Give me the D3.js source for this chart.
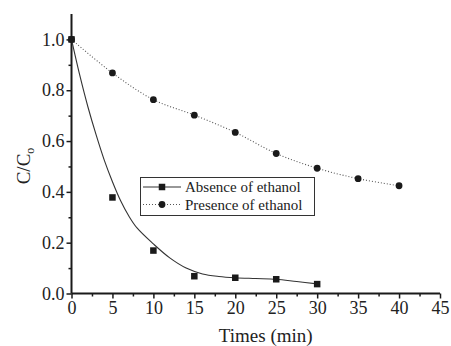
<!DOCTYPE html>
<html>
<head>
<meta charset="utf-8">
<script src="https://cdn.jsdelivr.net/npm/d3@7"></script>
</head>
<body style="margin:0;background:#fff">
<svg id="chart" width="451" height="346" style="display:block"></svg>
<script>
// ---- data ----
const absenceTime = [0, 5, 10, 15, 20, 25, 30];
const absenceValue = [1.0, 0.378, 0.169, 0.068, 0.062, 0.056, 0.037];
const absenceFitTime = [0, 1, 2, 3, 4, 5, 6, 7, 8, 10, 12, 14, 16, 18, 20, 22.5, 25, 27.5, 30];
const absenceFitValue = [1.0, 0.86, 0.735, 0.625, 0.525, 0.44, 0.365, 0.305, 0.258, 0.195, 0.14, 0.1, 0.077, 0.067, 0.062, 0.059, 0.056, 0.047, 0.038];
const presenceTime = [0, 5, 10, 15, 20, 25, 30, 35, 40];
const presenceValue = [1.0, 0.868, 0.763, 0.702, 0.634, 0.551, 0.493, 0.452, 0.424];
const xTicks = [0, 5, 10, 15, 20, 25, 30, 35, 40, 45];
const yTicks = [0.0, 0.2, 0.4, 0.6, 0.8, 1.0];
const legendLabels = ["Absence of ethanol", "Presence of ethanol"];

const FONT = '"Liberation Serif"';
const svg = d3.select("#chart");
const x = d3.scaleLinear().domain([0, 45]).range([71.5, 440]);
const y = d3.scaleLinear().domain([0, 1.1]).range([293.5, 14]);

const ink = "#1a1a1a";

// axes
const xAxis = d3.axisBottom(x).tickValues(xTicks).tickFormat(d3.format("d")).tickSize(5).tickPadding(3);
const xMinor = d3.axisBottom(x).tickValues(d3.range(2.5, 45, 5)).tickFormat("").tickSize(3);
const yAxis = d3.axisLeft(y).tickValues(yTicks).tickFormat(d3.format(".1f")).tickSize(5).tickPadding(2);
const yMinor = d3.axisLeft(y).tickValues([0.1, 0.3, 0.5, 0.7, 0.9]).tickFormat("").tickSize(3);

function styleAxis(g) {
  g.attr("font-family", null);
  g.select(".domain").attr("stroke", ink).attr("stroke-width", 2);
  g.selectAll(".tick line").attr("stroke", ink).attr("stroke-width", 1.5);
  g.selectAll(".tick text").attr("fill", "#222").attr("font-size", 18).style("font-family", FONT);
}

svg.append("g").attr("transform", `translate(0,${y(0)})`).call(xMinor).call(styleAxis).select(".domain").remove();
svg.append("g").attr("transform", `translate(${x(0)},0)`).call(yMinor).call(styleAxis).select(".domain").remove();
svg.append("g").attr("transform", `translate(0,${y(0)})`).call(xAxis).call(styleAxis)
  .select(".domain").attr("d", `M${x(0)},0H${x(45)}`);
svg.append("g").attr("transform", `translate(${x(0)},0)`).call(yAxis).call(styleAxis)
  .select(".domain").attr("d", `M0,${y(1.1)}V${y(0)}`);

// axis titles
svg.append("text").attr("x", (x(0) + x(45)) / 2 + 10).attr("y", 342)
  .attr("text-anchor", "middle").attr("font-size", 19).attr("fill", "#222")
  .style("font-family", FONT).text("Times (min)");
const yt = svg.append("text")
  .attr("transform", `translate(30,166) rotate(-90)`)
  .attr("text-anchor", "middle").attr("font-size", 19).attr("fill", "#222")
  .style("font-family", FONT);
yt.append("tspan").text("C/C");
yt.append("tspan").attr("font-size", 12).attr("dy", 4).text("o");

// fitted curve for absence
const fit = absenceFitTime.map((t, i) => [t, absenceFitValue[i]]);
svg.append("path")
  .attr("d", d3.line().x(d => x(d[0])).y(d => y(d[1])).curve(d3.curveCatmullRom)(fit))
  .attr("fill", "none").attr("stroke", "#333").attr("stroke-width", 1.1);

// presence dotted line
const pres = presenceTime.map((t, i) => [t, presenceValue[i]]);
svg.append("path")
  .attr("d", d3.line().x(d => x(d[0])).y(d => y(d[1])).curve(d3.curveCatmullRom)(pres))
  .attr("fill", "none").attr("stroke", "#555").attr("stroke-width", 1.1).attr("stroke-dasharray", "1,2");

// markers
const abs = absenceTime.map((t, i) => [t, absenceValue[i]]);
const sq = 6.5;
svg.append("g").selectAll("rect").data(abs).join("rect")
  .attr("x", d => x(d[0]) - sq / 2).attr("y", d => y(d[1]) - sq / 2)
  .attr("width", sq).attr("height", sq).attr("fill", ink);
svg.append("g").selectAll("circle").data(pres).join("circle")
  .attr("cx", d => x(d[0])).attr("cy", d => y(d[1])).attr("r", 3.4).attr("fill", ink);

// legend
const lg = svg.append("g");
lg.append("rect").attr("x", 140.5).attr("y", 177.5).attr("width", 174).attr("height", 38)
  .attr("fill", "#fff").attr("stroke", "#333").attr("stroke-width", 1);
const rows = [187, 204.5];
lg.append("line").attr("x1", 143).attr("x2", 181).attr("y1", rows[0]).attr("y2", rows[0])
  .attr("stroke", "#333").attr("stroke-width", 1.1);
lg.append("rect").attr("x", 162 - sq / 2).attr("y", rows[0] - sq / 2).attr("width", sq).attr("height", sq).attr("fill", ink);
lg.append("line").attr("x1", 143).attr("x2", 181).attr("y1", rows[1]).attr("y2", rows[1])
  .attr("stroke", "#555").attr("stroke-width", 1.1).attr("stroke-dasharray", "1,2");
lg.append("circle").attr("cx", 162).attr("cy", rows[1]).attr("r", 3.4).attr("fill", ink);
lg.selectAll("text.lab").data(legendLabels).join("text").attr("class", "lab")
  .attr("x", 185).attr("y", (d, i) => rows[i] + 5).attr("font-size", 15).attr("fill", "#222")
  .style("font-family", FONT).text(d => d);
</script>
</body>
</html>
